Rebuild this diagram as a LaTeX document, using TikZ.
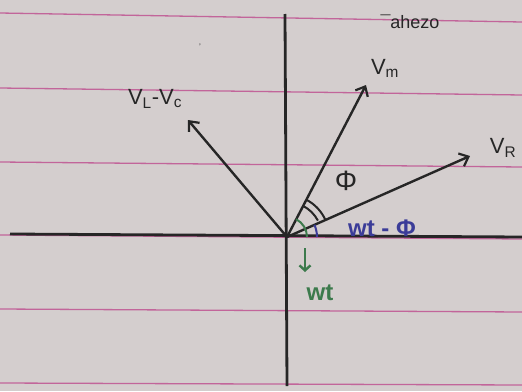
\documentclass[tikz,border=0pt]{standalone}
\usepackage{fontspec}
\setmainfont{Liberation Sans}
\usetikzlibrary{arrows.meta}
\definecolor{paper}{HTML}{D4CECE}
\definecolor{rule}{HTML}{C2659A}
\definecolor{ink}{HTML}{262626}
\definecolor{blueink}{HTML}{3B3C98}
\definecolor{greenink}{HTML}{3C7A4C}
\tikzset{
  vec/.style={ink, line width=2.4pt, -{Straight Barb[length=8pt,width=14pt,line width=2.2pt]}},
  axis/.style={ink, line width=2.8pt},
  ruled/.style={rule, line width=1.3pt},
  lbl/.style={ink, font=\fontsize{22}{24}\selectfont, inner sep=1pt},
  arcink/.style={line width=2pt},
}
\begin{document}
\begin{tikzpicture}[x=1pt,y=-1pt]
\fill[paper] (0,0) rectangle (522,391);
\useasboundingbox (0,0) rectangle (522,391);
% ruled lines
\draw[ruled] (0,13) -- (522,22);
\draw[ruled] (0,88) -- (522,95);
\draw[ruled] (0,162) -- (522,167);
\draw[ruled] (0,235) -- (522,239);
\draw[ruled] (0,309) -- (522,312);
\draw[ruled] (0,383) -- (522,385);
% axes
\coordinate (O) at (287,237);
\coordinate (top) at (285,14);
\coordinate (bot) at (287,386);
\coordinate (left) at (10,234);
\coordinate (right) at (522,237);
\draw[axis] (top) -- (bot);
\draw[axis] (left) -- (right);
% vectors
\coordinate (LC) at (188,120);
\coordinate (M) at (366,85);
\coordinate (R) at (470,156);
\draw[vec] (O) -- (LC);
\draw[vec] (O) -- (M);
\draw[vec] (O) -- (R);
% labels
\node[lbl] (lLC) at (155,99) {V\textsubscript{L}-V\textsubscript{c}};
\node[lbl] (lM) at (385,68) {V\textsubscript{m}};
\node[lbl] (lR) at (503,148) {V\textsubscript{R}};
\node[ink, font=\fontsize{18}{18}\selectfont] (note) at (410,22) {¯ahezo};
\node[ink, font=\fontsize{8}{8}\selectfont] (tick) at (200,47) {'};
% angle phi (between V_R and V_m)
\draw[ink, arcink] (O) ++(-24:42) arc[start angle=-24, end angle=-63, radius=42];
\draw[ink, arcink] (O) ++(-28:35) arc[start angle=-28, end angle=-63, radius=35];
\node[ink, font=\fontsize{28}{30}\selectfont] (phi) at (346,181) {Φ};
% angle wt - phi (blue)
\draw[blueink, arcink] (O) ++(0:30) arc[start angle=0, end angle=-24, radius=30];
\node[blueink, font=\fontsize{24}{26}\selectfont\bfseries] (wtphi) at (382,228) {wt - Φ};
% angle wt (green)
\draw[greenink, arcink] (O) ++(0:20) arc[start angle=0, end angle=-63, radius=20];
\coordinate (g1) at (305,248);
\coordinate (g2) at (305,272);
\draw[greenink, line width=2.4pt, -{Straight Barb[length=5pt,width=11pt]}] (g1) -- (g2);
\node[greenink, font=\fontsize{24}{26}\selectfont\bfseries] (wt) at (320,293) {wt};
\end{tikzpicture}
\end{document}
